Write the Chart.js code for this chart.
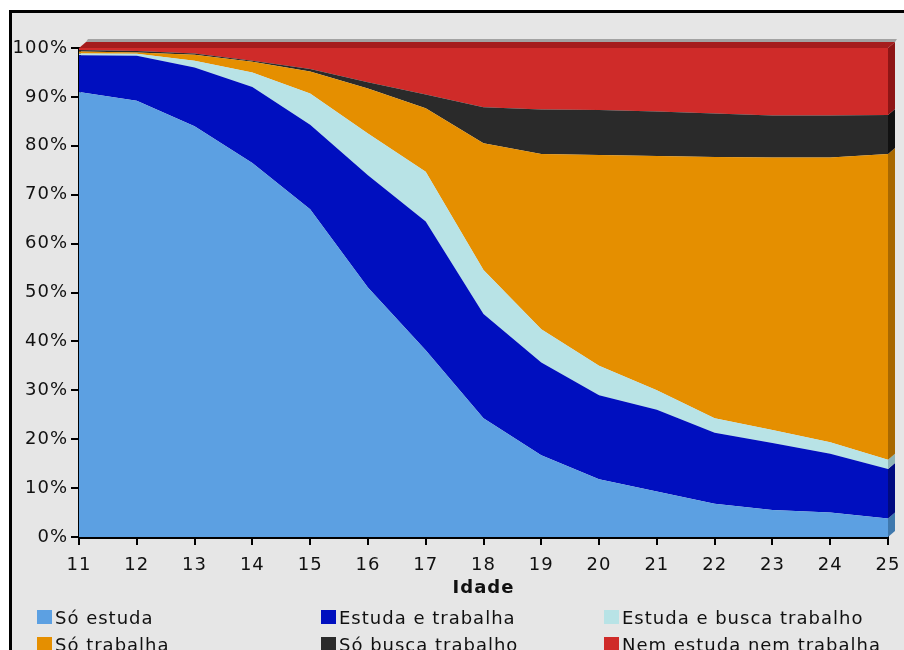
<!DOCTYPE html>
<html>
<head>
<meta charset="utf-8">
<style>
  body { margin: 0; background: #fff; font-family: "DejaVu Sans", Verdana, sans-serif; }
  #frame {
    position: absolute; left: 9px; top: 10px; width: 930px; height: 680px;
    border-left: 3px solid #000; border-top: 3px solid #000; background: #e6e6e6;
  }
  #chart { position: absolute; left: 0; top: 0; }
  #legend {
    position: absolute; left: 37px; top: 606px;
    display: grid; grid-template-columns: 284px 283px 290px; row-gap: 5px;
    font-size: 18px; letter-spacing: 1px; color: #111;
  }
  .item { display: flex; align-items: center; white-space: nowrap; height: 22px; }
  .swatch { width: 15px; height: 14px; margin-right: 3px; flex: none; }
</style>
<script src="https://cdn.jsdelivr.net/npm/chart.js"></script>
</head>
<body>
<div id="frame"></div>
<canvas id="chart" width="904" height="650"></canvas>
<div id="legend"></div>
<script>
  // idade (anos)
  const ages = ['11','12','13','14','15','16','17','18','19','20','21','22','23','24','25'];

  // percentual em cada situação (%)
  const soEstuda        = [91.0, 89.2, 84.0, 76.5, 67.0, 51.0, 38.2, 24.3, 16.7, 11.8,  9.3,  6.8,  5.5,  5.0,  3.8];
  const estudaTrabalha  = [ 7.5,  9.2, 12.0, 15.5, 17.3, 23.0, 26.3, 21.3, 19.0, 17.2, 16.7, 14.5, 13.7, 12.0, 10.1];
  const estudaBusca     = [ 0.4,  0.4,  1.4,  3.0,  6.4,  8.5, 10.2,  9.0,  6.8,  6.0,  4.0,  3.0,  2.7,  2.4,  1.9];
  const soTrabalha      = [ 0.4,  0.3,  1.2,  2.2,  4.5,  9.2, 13.0, 25.9, 35.8, 43.1, 47.9, 53.4, 55.7, 58.2, 62.5];
  const soBusca         = [ 0.3,  0.3,  0.3,  0.2,  0.5,  1.3,  2.8,  7.4,  9.1,  9.2,  9.1,  8.9,  8.6,  8.6,  8.0];
  const nemNem          = [ 0.4,  0.6,  1.1,  2.6,  4.3,  7.0,  9.5, 12.1, 12.6, 12.7, 13.0, 13.4, 13.8, 13.8, 13.7];

  const seriesNames = ['Só estuda', 'Estuda e trabalha', 'Estuda e busca trabalho',
                       'Só trabalha', 'Só busca trabalho', 'Nem estuda nem trabalha'];
  const seriesValues = [soEstuda, estudaTrabalha, estudaBusca, soTrabalha, soBusca, nemNem];

  const yTicks = [0, 10, 20, 30, 40, 50, 60, 70, 80, 90, 100];

  const colors = ['#5ca0e2', '#000fbf', '#b8e3e6', '#e58f00', '#2a2a2a', '#cf2b29'];
  const sideColors = ['#3f78ad', '#000a80', '#8fb3b5', '#a86800', '#111111', '#8e1515'];

  // legend in three columns, like the original
  const legendEl = document.getElementById('legend');
  seriesNames.forEach((name, i) => {
    legendEl.innerHTML += `<div class="item"><span class="swatch" style="background:${colors[i]}"></span>${name}</div>`;
  });

  // letter spacing for the canvas text (canvas state resets on resize)
  const spacing = {
    id: 'spacing',
    beforeLayout(chart) { chart.ctx.letterSpacing = '1px'; },
    beforeDraw(chart) { chart.ctx.letterSpacing = '1px'; }
  };

  // a shallow 3D edge on top and right side of the stack
  const depth3d = {
    id: 'depth3d',
    afterDatasetsDraw(chart) {
      const ctx = chart.ctx;
      const { left, right, top } = chart.chartArea;
      const dx = 7, dy = -6;
      const poly = (pts, fill) => {
        ctx.beginPath();
        ctx.moveTo(pts[0][0], pts[0][1]);
        pts.slice(1).forEach(p => ctx.lineTo(p[0], p[1]));
        ctx.closePath();
        ctx.fillStyle = fill;
        ctx.fill();
      };
      ctx.save();
      poly([[left + dx, top + dy], [right + dx, top + dy], [right + dx + 2, top + dy - 3], [left + dx + 2, top + dy - 3]], '#a3a3a3');
      poly([[left, top], [right, top], [right + dx, top + dy], [left + dx, top + dy]], '#a51d1d');
      const yScale = chart.scales.y;
      let prev = yScale.getPixelForValue(0);
      chart.data.datasets.forEach((ds, i) => {
        const pts = chart.getDatasetMeta(i).data;
        const yTop = pts[pts.length - 1].y;
        poly([[right, prev], [right, yTop], [right + dx, yTop + dy], [right + dx, prev + dy]], sideColors[i]);
        prev = yTop;
      });
      ctx.restore();
    }
  };

  Chart.defaults.font.family = '"DejaVu Sans", Verdana, sans-serif';
  Chart.defaults.font.size = 18;
  Chart.defaults.color = '#111';

  new Chart(document.getElementById('chart'), {
    type: 'line',
    data: {
      labels: ages,
      datasets: seriesValues.map((vals, i) => ({
        label: seriesNames[i],
        data: vals,
        backgroundColor: colors[i],
        borderColor: colors[i],
        borderWidth: 0,
        pointRadius: 0,
        tension: 0,
        fill: i === 0 ? 'origin' : '-1'
      }))
    },
    options: {
      responsive: false,
      animation: false,
      layout: { padding: { top: 48, right: 16, bottom: 47, left: 0 } },
      plugins: {
        legend: { display: false },
        tooltip: { enabled: false }
      },
      scales: {
        x: {
          grid: { drawOnChartArea: false, color: '#000', tickLength: 8, lineWidth: 2 },
          border: { color: '#000', width: 3 },
          ticks: { padding: 10, maxRotation: 0, autoSkip: false },
          title: { display: true, text: 'Idade', font: { weight: 'bold', size: 18 }, padding: { top: 4, bottom: 4 } },
          afterFit(scale) {
            scale.height = 66;
            scale.paddingLeft = 12;
            scale.paddingRight = 12;
          }
        },
        y: {
          stacked: true,
          min: 0,
          max: 100,
          afterBuildTicks(scale) { scale.ticks = yTicks.map(v => ({ value: v })); },
          grid: { drawOnChartArea: false, color: '#000', tickLength: 8, lineWidth: 2 },
          border: { color: '#000', width: 3 },
          ticks: { padding: 3, callback: v => v + '%' },
          afterFit(scale) { scale.width = 79; }
        }
      }
    },
    plugins: [spacing, depth3d]
  });
</script>
</body>
</html>
